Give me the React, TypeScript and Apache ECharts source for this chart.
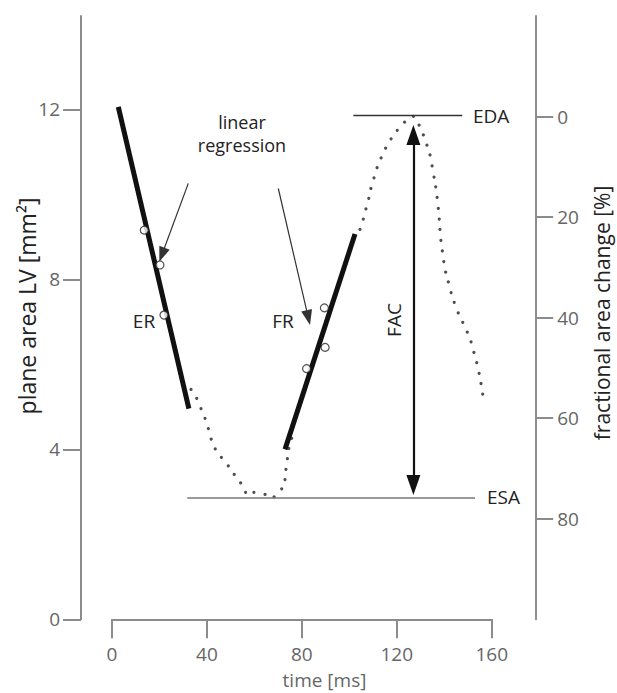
import React, { useEffect, useRef } from "react";
import * as echarts from "echarts";

// ---- data (time in ms, plane area in mm²) ----
const xTickValues = [0, 40, 80, 120, 160];
const leftTickValues = [0, 4, 8, 12];
const rightTickValues = [0, 20, 40, 60, 80];

// dotted area curve (visible sample dots)
const curveTime = [
  33.3, 35.7, 37.5, 39.2, 40.6, 41.8, 43.5, 46.1, 49.0, 51.5, 54.2, 56.3, 59.8,
  64.5, 68.3, 71.5, 72.9, 73.3, 73.9, 74.5, 75.7,
  104.5, 105.9, 107.0, 108.2, 109.1, 110.4, 111.7, 113.4, 115.3, 117.6, 120.2,
  123.3, 127.0, 129.4, 131.2, 132.7, 134.0, 134.9, 135.7, 136.4, 137.0, 137.5,
  137.9, 138.2, 138.6, 139.2, 139.8, 140.6, 141.7, 142.9, 144.2, 145.9, 147.8,
  149.7, 151.3, 152.5, 153.7, 154.7, 155.5, 156.2,
];
const curveArea = [
  5.41, 5.2, 4.96, 4.73, 4.49, 4.24, 4.01, 3.81, 3.61, 3.41, 3.21, 2.99, 2.99,
  2.94, 2.88, 3.07, 3.29, 3.53, 3.78, 4.02, 4.26,
  9.18, 9.42, 9.66, 9.91, 10.14, 10.39, 10.63, 10.86, 11.09, 11.31, 11.51,
  11.7, 11.84, 11.63, 11.4, 11.16, 10.93, 10.67, 10.41, 10.18, 9.93, 9.67,
  9.42, 9.18, 8.92, 8.67, 8.42, 8.17, 7.94, 7.69, 7.46, 7.21, 6.99,
  6.76, 6.53, 6.28, 6.04, 5.79, 5.55, 5.3,
];

// regression lines (ER: ejection, FR: filling)
const erLine: [number, number][] = [[2.65, 12.06], [32.4, 4.96]];
const frLine: [number, number][] = [[72.9, 4.0], [102.4, 9.07]];

// sample points (open circles)
const erSamples: [number, number][] = [[13.6, 9.16], [20.2, 8.34], [21.9, 7.16]];
const frSamples: [number, number][] = [[82.0, 5.9], [89.8, 6.4], [89.5, 7.33]];

// reference levels
const EDA = 11.87;
const ESA = 2.86;
const edaSpan = [101.7, 147.6];
const esaSpan = [31.7, 153.0];
const facTime = 127.0;
const facEnds = [11.4, 3.16];

// annotation arrows ("linear regression")
const arrowER: [number, number][] = [[32.15, 10.26], [21.03, 8.58]];
const arrowFR: [number, number][] = [[70.08, 10.14], [82.72, 7.1]];

const FONT = "'Open Sans', 'Noto Sans', sans-serif";
const AXIS_COLOR = "#8c8c8c";
const TICK_LABEL = "#666666";

export default function App() {
  const ref = useRef<HTMLDivElement>(null);

  useEffect(() => {
    if (!ref.current) return;
    const chart = echarts.init(ref.current, undefined, { renderer: "svg" });

    const curveData = curveTime.map((t, i) => [t, curveArea[i]]);

    const axisLine = { show: true, onZero: false, lineStyle: { color: AXIS_COLOR, width: 2 } };
    const axisTickBase = { show: true, lineStyle: { color: AXIS_COLOR, width: 2 } };
    const labelBase = {
      color: TICK_LABEL,
      fontSize: 19,
      fontFamily: FONT,
    };

    const option: any = {
      animation: false,
      backgroundColor: "#fff",
      grid: { left: 112, right: 125.3, top: 16, bottom: 73.7, containLabel: false },
      xAxis: {
        type: "value",
        min: 0,
        max: 160,
        interval: 40,
        axisLine,
        axisTick: { ...axisTickBase, length: 19, customValues: xTickValues },
        axisLabel: { ...labelBase, margin: 25, customValues: xTickValues },
        splitLine: { show: false },
      },
      yAxis: [
        {
          type: "value",
          position: "left",
          offset: 31,
          min: 0,
          max: 14.2,
          axisLine,
          axisTick: { ...axisTickBase, length: 18, customValues: leftTickValues },
          axisLabel: { ...labelBase, margin: 21, customValues: leftTickValues },
          splitLine: { show: false },
        },
        {
          type: "value",
          position: "right",
          offset: 44.5,
          min: -20,
          max: 100,
          inverse: true,
          axisLine,
          axisTick: { ...axisTickBase, length: 17, customValues: rightTickValues },
          axisLabel: { ...labelBase, margin: 21, customValues: rightTickValues },
          splitLine: { show: false },
        },
      ],
      series: [
        {
          type: "scatter",
          name: "area",
          data: curveData,
          symbol: "circle",
          symbolSize: 3.2,
          itemStyle: { color: "#222" },
          silent: true,
          markLine: {
            silent: true,
            symbol: ["none", "none"],
            label: { show: false },
            lineStyle: { type: "solid" },
            data: [
              [
                { coord: [edaSpan[0], EDA], lineStyle: { color: "#333", width: 1.4 } },
                { coord: [edaSpan[1], EDA] },
              ],
              [
                { coord: [esaSpan[0], ESA], lineStyle: { color: "#777", width: 1.6 } },
                { coord: [esaSpan[1], ESA] },
              ],
            ],
          },
        },
        {
          type: "line",
          name: "ER",
          data: erLine,
          showSymbol: false,
          symbol: "none",
          lineStyle: { color: "#111", width: 5 },
          silent: true,
          markLine: {
            silent: true,
            symbol: ["none", "triangle"],
            symbolSize: [11, 15],
            label: { show: false },
            lineStyle: { color: "#333", width: 1.2, type: "solid" },
            data: [[{ coord: arrowER[0] }, { coord: arrowER[1] }]],
          },
        },
        {
          type: "line",
          name: "FR",
          data: frLine,
          showSymbol: false,
          symbol: "none",
          lineStyle: { color: "#111", width: 5 },
          silent: true,
          markLine: {
            silent: true,
            symbol: ["none", "triangle"],
            symbolSize: [11, 15],
            label: { show: false },
            lineStyle: { color: "#333", width: 1.2, type: "solid" },
            data: [[{ coord: arrowFR[0] }, { coord: arrowFR[1] }]],
          },
        },
        {
          type: "scatter",
          name: "samples",
          data: [...erSamples, ...frSamples],
          symbol: "circle",
          symbolSize: 8,
          itemStyle: { color: "#fff", borderColor: "#222", borderWidth: 1.2 },
          silent: true,
          z: 5,
          markLine: {
            silent: true,
            symbol: ["triangle", "triangle"],
            symbolSize: [14, 20],
            label: { show: false },
            lineStyle: { color: "#111", width: 2.2, type: "solid" },
            data: [[{ coord: [facTime, facEnds[0]] }, { coord: [facTime, facEnds[1]] }]],
          },
        },
      ],
      graphic: [
        {
          type: "text",
          x: 242,
          y: 122,
          style: { text: "linear", font: `18px ${FONT}`, fill: "#222", textAlign: "center", textVerticalAlign: "middle" },
        },
        {
          type: "text",
          x: 242,
          y: 145,
          style: { text: "regression", font: `18px ${FONT}`, fill: "#222", textAlign: "center", textVerticalAlign: "middle" },
        },
        {
          type: "text",
          x: 144,
          y: 321,
          style: { text: "ER", font: `19px ${FONT}`, fill: "#222", textAlign: "center", textVerticalAlign: "middle" },
        },
        {
          type: "text",
          x: 283,
          y: 321,
          style: { text: "FR", font: `19px ${FONT}`, fill: "#222", textAlign: "center", textVerticalAlign: "middle" },
        },
        {
          type: "text",
          x: 473,
          y: 116,
          style: { text: "EDA", font: `19px ${FONT}`, fill: "#222", textAlign: "left", textVerticalAlign: "middle" },
        },
        {
          type: "text",
          x: 487,
          y: 497,
          style: { text: "ESA", font: `19px ${FONT}`, fill: "#222", textAlign: "left", textVerticalAlign: "middle" },
        },
        {
          type: "text",
          x: 394,
          y: 320,
          rotation: Math.PI / 2,
          style: { text: "FAC", font: `19px ${FONT}`, fill: "#222", textAlign: "center", textVerticalAlign: "middle" },
        },
        {
          type: "text",
          x: 27,
          y: 306,
          rotation: Math.PI / 2,
          style: { text: "plane area LV [mm²]", font: `23px ${FONT}`, fill: "#222", textAlign: "center", textVerticalAlign: "middle" },
        },
        {
          type: "text",
          x: 602,
          y: 313,
          rotation: Math.PI / 2,
          style: { text: "fractional area change [%]", font: `21px ${FONT}`, fill: "#222", textAlign: "center", textVerticalAlign: "middle" },
        },
        {
          type: "text",
          x: 324.5,
          y: 680,
          style: { text: "time [ms]", font: `19px ${FONT}`, fill: TICK_LABEL, textAlign: "center", textVerticalAlign: "middle" },
        },
      ],
    };

    chart.setOption(option);
    return () => chart.dispose();
  }, []);

  return (
    <div
      ref={ref}
      style={{ position: "fixed", left: 0, top: 0, width: 617, height: 693, background: "#fff" }}
    />
  );
}
